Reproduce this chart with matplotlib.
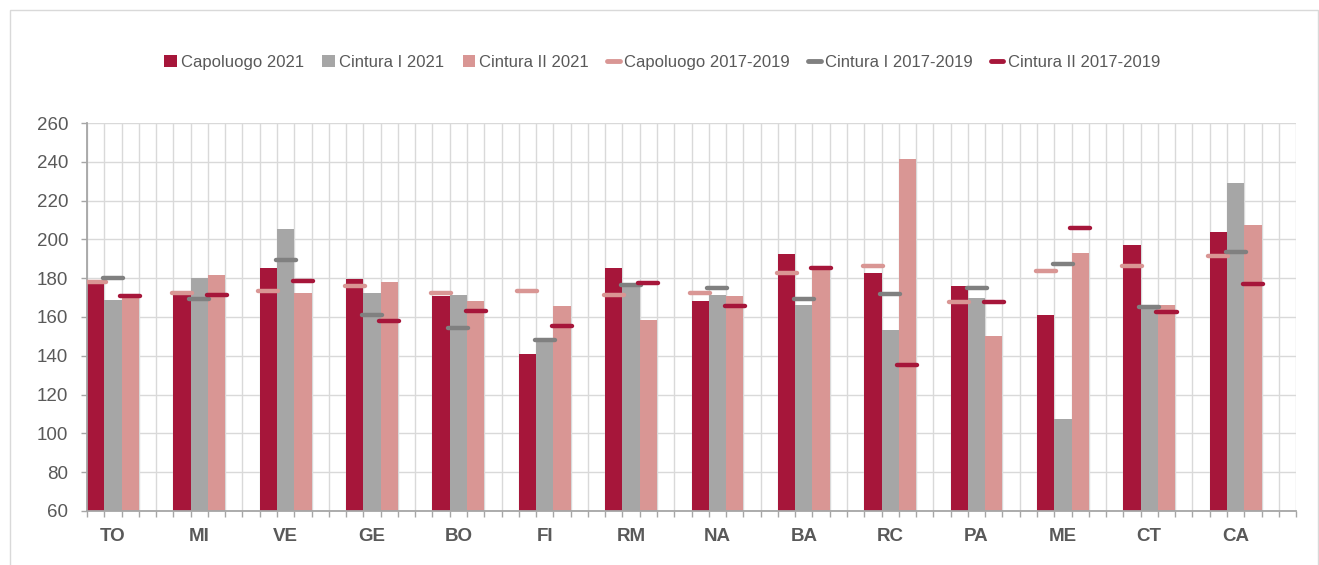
import numpy as np
import matplotlib.pyplot as plt
from matplotlib.patches import Rectangle
from matplotlib.lines import Line2D
from matplotlib.patches import Patch

plt.rcParams['font.family'] = ['Liberation Sans', 'DejaVu Sans']

# city codes
cities = ["TO", "MI", "VE", "GE", "BO", "FI", "RM", "NA", "BA", "RC", "PA", "ME", "CT", "CA"]

# 2021 values (bars)
capoluogo_2021 = [179, 171.5, 185.5, 179.8, 171, 140.7, 185.5, 168.5, 192.5, 182.6, 176.1, 161.1, 197.2, 203.7]
cintura1_2021 = [168.7, 180.3, 205.6, 172.3, 171.4, 147.5, 176.2, 171.2, 166.3, 153.2, 169.9, 107.2, 165, 229.3]
cintura2_2021 = [169.8, 181.7, 172.3, 177.9, 168.2, 165.9, 158.7, 170.7, 185, 241.6, 150, 193.2, 166.3, 207.3]

# 2017-2019 reference values (markers)
capoluogo_1719 = [177.8, 172.6, 173.3, 176.1, 172.5, 173.3, 171.2, 172.4, 182.9, 186.4, 167.8, 183.6, 186.4, 191.2]
cintura1_1719 = [180, 169.2, 189.6, 161.1, 154.1, 147.9, 176.6, 175, 169.4, 172.1, 174.8, 187.4, 165.2, 193.7]
cintura2_1719 = [170.9, 171.4, 178.6, 157.9, 163.3, 155.6, 177.3, 165.8, 185.3, 135, 167.8, 205.9, 162.5, 177.1]

dark_red = "#A6163A"
grey = "#A6A6A6"
pink = "#D99694"
dark_grey = "#808080"
txt = "#595959"

fig = plt.figure(figsize=(13.19, 5.65), dpi=100)
ax = fig.add_axes([0.066, 0.0956, 0.9166, 0.6867])

# each city gets 5 grid cells, bars fill the first three
x = np.arange(len(cities)) * 5
bars = [capoluogo_2021, cintura1_2021, cintura2_2021]
bar_colors = [dark_red, grey, pink]
for k in range(3):
    ax.bar(x + k + 0.5, np.array(bars[k]) - 60, width=1, bottom=60,
           color=bar_colors[k], zorder=2)

marks = [capoluogo_1719, cintura1_1719, cintura2_1719]
mark_colors = [pink, dark_grey, dark_red]
for k in range(3):
    ax.hlines(marks[k], x + k + 0.5 - 0.58, x + k + 0.5 + 0.58,
              colors=mark_colors[k], linewidth=3.2, capstyle='round', zorder=3)

ax.set_xlim(0, 70)
ax.set_ylim(60, 260)
ax.set_yticks(np.arange(60, 261, 20))
ax.set_xticks(np.arange(0, 71, 1), minor=True)
ax.set_xticks(x + 1.5)
ax.set_xticklabels(cities, fontsize=13.5, fontweight='bold', color=txt)
ax.tick_params(axis='x', which='major', length=0, pad=12)
ax.tick_params(axis='x', which='minor', length=4.5, color="#A6A6A6", width=1)
ax.tick_params(axis='y', length=4.5, color="#A6A6A6", width=1, labelsize=13.5,
               labelcolor=txt, pad=9)

ax.grid(True, which='minor', axis='x', color="#D9D9D9", linewidth=1, zorder=0)
ax.grid(True, which='major', axis='y', color="#D9D9D9", linewidth=1, zorder=0)
ax.set_axisbelow(True)

for s in ['top', 'right']:
    ax.spines[s].set_visible(False)
for s in ['left', 'bottom']:
    ax.spines[s].set_color("#A6A6A6")
    ax.spines[s].set_linewidth(1.3)

handles = [
    Patch(facecolor=dark_red, label="Capoluogo 2021"),
    Patch(facecolor=grey, label="Cintura I 2021"),
    Patch(facecolor=pink, label="Cintura II 2021"),
    Line2D([], [], color=pink, linewidth=3.5, solid_capstyle='round', label="Capoluogo 2017-2019"),
    Line2D([], [], color=dark_grey, linewidth=3.5, solid_capstyle='round', label="Cintura I 2017-2019"),
    Line2D([], [], color=dark_red, linewidth=3.5, solid_capstyle='round', label="Cintura II 2017-2019"),
]
leg = fig.legend(handles=handles, loc='center', bbox_to_anchor=(0.502, 0.89), ncol=6,
                 frameon=False, fontsize=12, handlelength=0.75, handleheight=0.75,
                 handletextpad=0.25, columnspacing=1.1)
for t in leg.get_texts():
    t.set_color(txt)

# outer frame of the chart
fig.patches.append(Rectangle((10 / 1319, -0.1), 1308 / 1319, 1.1 - 10 / 565,
                             transform=fig.transFigure, fill=False,
                             edgecolor="#D9D9D9", linewidth=1))

fig.savefig("out.png", dpi=100)
